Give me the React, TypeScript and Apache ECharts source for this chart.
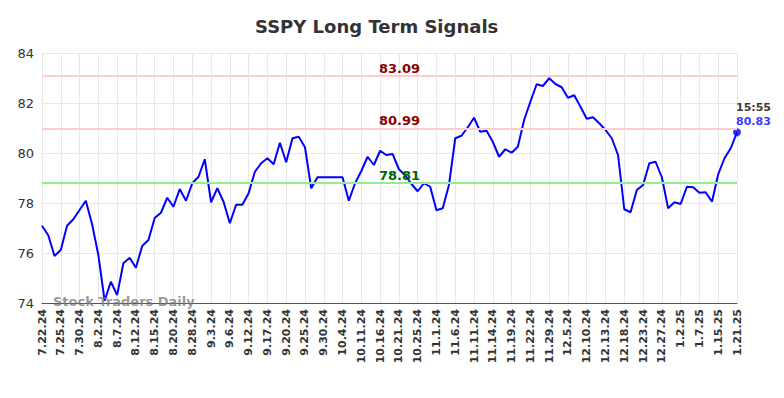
import React, { useEffect, useRef } from "react";
import * as echarts from "echarts";

const dates: string[] = [
  "7.22.24", "7.23.24", "7.24.24", "7.25.24", "7.26.24", "7.29.24",
  "7.30.24", "7.31.24", "8.1.24", "8.2.24", "8.5.24", "8.6.24",
  "8.7.24", "8.8.24", "8.9.24", "8.12.24", "8.13.24", "8.14.24",
  "8.15.24", "8.16.24", "8.19.24", "8.20.24", "8.22.24", "8.26.24",
  "8.28.24", "8.29.24", "8.30.24", "9.3.24", "9.4.24", "9.5.24",
  "9.6.24", "9.9.24", "9.10.24", "9.12.24", "9.13.24", "9.16.24",
  "9.17.24", "9.18.24", "9.19.24", "9.20.24", "9.23.24", "9.24.24",
  "9.25.24", "9.26.24", "9.27.24", "9.30.24", "10.1.24", "10.2.24",
  "10.4.24", "10.7.24", "10.9.24", "10.11.24", "10.14.24", "10.15.24",
  "10.16.24", "10.17.24", "10.18.24", "10.21.24", "10.22.24", "10.24.24",
  "10.25.24", "10.28.24", "10.30.24", "11.1.24", "11.4.24", "11.5.24",
  "11.6.24", "11.7.24", "11.8.24", "11.11.24", "11.12.24", "11.13.24",
  "11.14.24", "11.15.24", "11.18.24", "11.19.24", "11.20.24", "11.21.24",
  "11.22.24", "11.25.24", "11.26.24", "11.29.24", "12.2.24", "12.3.24",
  "12.5.24", "12.6.24", "12.9.24", "12.10.24", "12.11.24", "12.12.24",
  "12.13.24", "12.16.24", "12.17.24", "12.18.24", "12.19.24", "12.20.24",
  "12.23.24", "12.24.24", "12.26.24", "12.27.24", "12.30.24", "12.31.24",
  "1.2.25", "1.3.25", "1.6.25", "1.7.25", "1.8.25", "1.10.25",
  "1.15.25", "1.16.25", "1.17.25", "1.21.25",
];

const prices: number[] = [
  77.09, 76.71, 75.88, 76.12, 77.09, 77.35,
  77.72, 78.09, 77.15, 75.92, 74.09, 74.85,
  74.32, 75.59, 75.81, 75.41, 76.28, 76.52,
  77.4, 77.61, 78.21, 77.85, 78.56, 78.09,
  78.79, 79.05, 79.75, 78.03, 78.59, 78.05,
  77.19, 77.93, 77.93, 78.39, 79.25, 79.59,
  79.79, 79.55, 80.41, 79.63, 80.59, 80.65,
  80.23, 78.59, 79.03, 79.03, 79.03, 79.03,
  79.03, 78.09, 78.79, 79.28, 79.85, 79.52,
  80.09, 79.92, 79.96, 79.35, 79.11, 78.76,
  78.47, 78.79, 78.65, 77.71, 77.79, 78.72,
  80.59, 80.69, 81.03, 81.41, 80.85, 80.89,
  80.45, 79.85, 80.15, 80.01, 80.25, 81.32,
  82.05, 82.75, 82.68, 82.99, 82.76, 82.63,
  82.21, 82.31, 81.85, 81.37, 81.43, 81.19,
  80.92, 80.59, 79.92, 77.75, 77.63, 78.52,
  78.72, 79.59, 79.65, 79.03, 77.79, 78.03,
  77.96, 78.65, 78.63, 78.41, 78.43, 78.05,
  79.15, 79.79, 80.19, 80.83,
];

const resistanceLevels: number[] = [83.09, 80.99];
const supportLevels: number[] = [78.81];
const lastTime = "15:55";
const yTicks = { min: 74, max: 84, interval: 2 };

export default function App() {
  const ref = useRef<HTMLDivElement>(null);

  useEffect(() => {
    if (!ref.current) return;
    const chart = echarts.init(ref.current, null, { renderer: "svg" });
    const lastIdx = prices.length - 1;
    const font = "DejaVu Sans";

    const levelLabel = (v: number, color: string) => ({
      show: true,
      position: "insideMiddleTop",
      formatter: v.toFixed(2),
      fontFamily: font,
      fontSize: 13,
      fontWeight: "bold",
      color,
      offset: [10, 4],
    });

    chart.setOption({
      animation: false,
      backgroundColor: "#ffffff",
      title: {
        text: "SSPY Long Term Signals",
        left: 250,
        top: 12,
        textStyle: {
          fontFamily: font,
          fontSize: 18,
          fontWeight: "bold",
          color: "#333333",
        },
      },
      grid: { left: 42, right: 47, top: 53, bottom: 95, containLabel: false },
      xAxis: {
        type: "category",
        data: dates,
        boundaryGap: false,
        axisLine: { show: true, lineStyle: { color: "#555555", width: 1 } },
        axisTick: { show: false },
        axisLabel: {
          interval: 2,
          rotate: 90,
          fontFamily: font,
          fontSize: 11,
          fontWeight: "bold",
          color: "#333333",
          margin: 6,
        },
        splitLine: {
          show: true,
          interval: 2,
          lineStyle: { color: "#e8e8e8", width: 1 },
        },
      },
      yAxis: {
        type: "value",
        min: yTicks.min,
        max: yTicks.max,
        interval: yTicks.interval,
        axisLine: { show: false },
        axisTick: { show: false },
        axisLabel: {
          fontFamily: font,
          fontSize: 13,
          color: "#333333",
          margin: 8,
        },
        splitLine: { show: true, lineStyle: { color: "#e8e8e8", width: 1 } },
      },
      series: [
        {
          type: "line",
          data: prices,
          showSymbol: false,
          symbol: "none",
          lineStyle: { color: "#0000ff", width: 2 },
          z: 3,
          markLine: {
            silent: true,
            symbol: ["none", "none"],
            data: [
              ...resistanceLevels.map((v) => ({
                yAxis: v,
                lineStyle: { color: "#ffcccc", width: 2, type: "solid" },
                label: levelLabel(v, "#8b0000"),
              })),
              ...supportLevels.map((v) => ({
                yAxis: v,
                lineStyle: { color: "#90ee90", width: 2, type: "solid" },
                label: levelLabel(v, "#006400"),
              })),
            ],
          },
        },
        {
          type: "scatter",
          data: [[dates[lastIdx], prices[lastIdx]]],
          symbol: "circle",
          symbolSize: 8,
          itemStyle: { color: "#0000ff" },
          z: 4,
          label: {
            show: true,
            position: [3, -28],
            align: "left",
            formatter: `{t|${lastTime}}\n{v|${prices[lastIdx].toFixed(2)}}`,
            rich: {
              t: { fontFamily: font, fontSize: 11, fontWeight: "bold", color: "#000000", lineHeight: 14 },
              v: { fontFamily: font, fontSize: 11, fontWeight: "bold", color: "#0000ff", lineHeight: 14 },
            },
          },
        },
      ],
      graphic: [
        {
          type: "text",
          left: 53,
          top: 295,
          z: 10,
          style: {
            text: "Stock Traders Daily",
            fontFamily: font,
            fontSize: 13,
            fontWeight: "bold",
            fill: "rgba(120,120,120,0.75)",
          },
        },
      ],
    });

    return () => chart.dispose();
  }, []);

  return (
    <div
      ref={ref}
      style={{ position: "fixed", left: 0, top: 0, width: 784, height: 398 }}
    />
  );
}
